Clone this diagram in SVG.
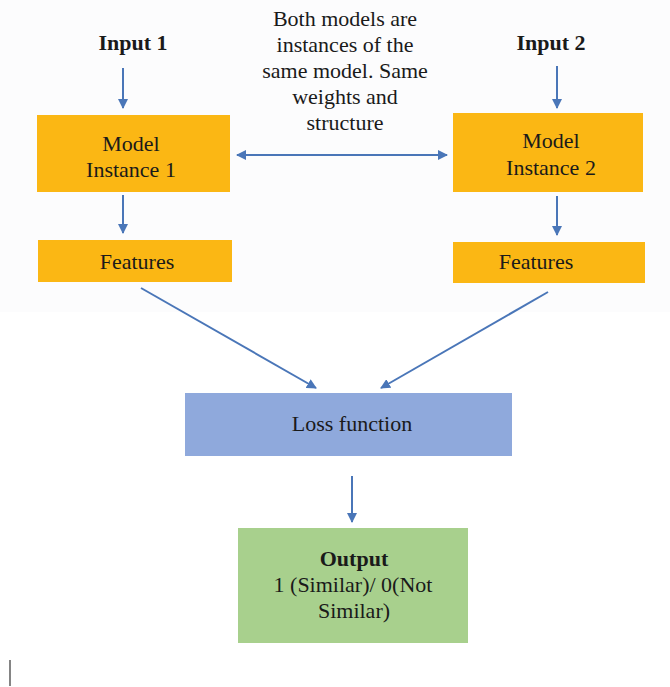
<svg xmlns="http://www.w3.org/2000/svg" width="670" height="687" viewBox="0 0 670 687">
<defs>
<marker id="ah" viewBox="0 0 10 10" refX="9" refY="5" markerWidth="5" markerHeight="5" orient="auto-start-reverse" markerUnits="strokeWidth">
<path d="M0,0 L10,5 L0,10 z" fill="#4a76b8"/>
</marker>
<clipPath id="top"><rect x="0" y="11" width="670" height="676"/></clipPath>
<style>
.or{fill:#fbb714}
.bl{fill:#8fa9dc}
.gr{fill:#a8d08d}
.c{stroke:#4a76b8;stroke-width:2;fill:none;marker-end:url(#ah)}
</style>
</defs>
<rect x="0" y="0" width="670" height="687" fill="#ffffff"/>
<rect x="0" y="0" width="670" height="312" fill="#fcfcfd"/>
<g font-family="Liberation Serif, Times New Roman, serif" font-size="22" text-anchor="middle" fill="#1a1a1a">
<g id="input1"><text x="133" y="50" font-weight="bold">Input 1</text></g>
<g id="input2"><text x="551" y="50" font-weight="bold">Input 2</text></g>
<g id="note" clip-path="url(#top)">
<text x="345" y="26">Both models are</text>
<text x="345" y="52">instances of the</text>
<text x="345" y="78">same model. Same</text>
<text x="345" y="104">weights and</text>
<text x="345" y="130">structure</text>
</g>
<g id="model1"><rect class="or" x="37" y="115" width="193" height="77"/>
<text x="131" y="151">Model</text><text x="131" y="177">Instance 1</text></g>
<g id="model2"><rect class="or" x="453" y="113" width="190" height="79"/>
<text x="551" y="148">Model</text><text x="551" y="175">Instance 2</text></g>
<g id="features1"><rect class="or" x="38" y="240" width="194" height="42"/>
<text x="137" y="269">Features</text></g>
<g id="features2"><rect class="or" x="453" y="242" width="192" height="41"/>
<text x="536" y="269">Features</text></g>
<g id="loss"><rect class="bl" x="185" y="393" width="327" height="63"/>
<text x="352" y="431">Loss function</text></g>
<g id="output"><rect class="gr" x="238" y="528" width="230" height="115"/>
<text x="354" y="566" font-weight="bold">Output</text>
<text x="353" y="592">1 (Similar)/ 0(Not</text>
<text x="354" y="618">Similar)</text></g>
</g>
<g id="connectors">
<line class="c" x1="123" y1="68" x2="123" y2="108"/>
<line class="c" x1="557" y1="66" x2="557" y2="108"/>
<line class="c" x1="237" y1="155" x2="447" y2="155" style="marker-start:url(#ah)"/>
<line class="c" x1="123" y1="195" x2="123" y2="233"/>
<line class="c" x1="557" y1="196" x2="557" y2="235"/>
<line class="c" x1="141" y1="288" x2="316" y2="388"/>
<line class="c" x1="548" y1="292" x2="381" y2="388"/>
<line class="c" x1="352" y1="476" x2="352" y2="522"/>
</g>
<line x1="10" y1="660" x2="10" y2="686" stroke="#333" stroke-width="1.2"/>
</svg>
